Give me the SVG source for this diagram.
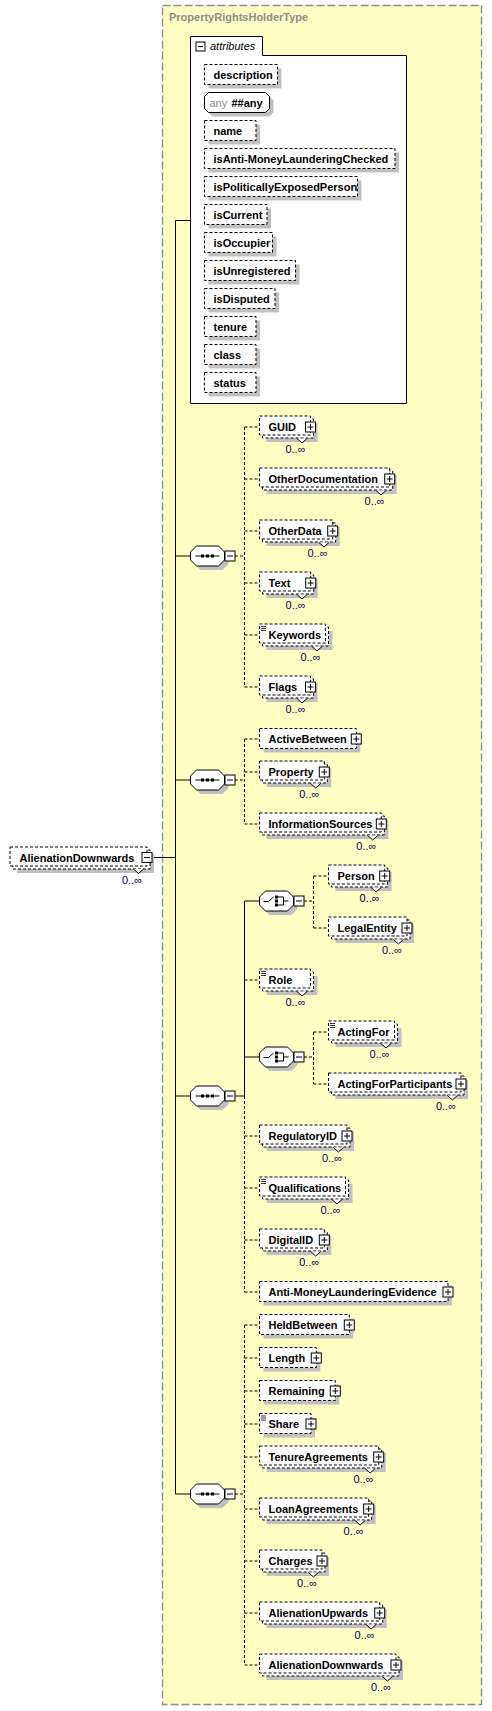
<svg xmlns="http://www.w3.org/2000/svg" width="492" height="1711" viewBox="0 0 492 1711">
<style>
.bg{fill:#fff}
.type{fill:#ffffc4;stroke:#8c8c8c;stroke-width:1.4;stroke-dasharray:8,3}
.sh{fill:#c0c0c0}
.bx{fill:#fff;stroke:#000;stroke-width:1;stroke-dasharray:3,2}
.sb{fill:#fff;stroke:#000;stroke-width:1}
.nm{font-family:"Liberation Sans",Arial,sans-serif;font-size:11px;font-weight:bold;fill:#000}
.oc{font-family:"Liberation Sans",Arial,sans-serif;font-size:11px;fill:#00005a;text-anchor:end}
.ttl{font-family:"Liberation Sans",Arial,sans-serif;font-size:11px;font-weight:bold;fill:#8c8c8c}
.it{font-family:"Liberation Sans",Arial,sans-serif;font-size:11px;font-style:italic;fill:#000}
.gr{font-family:"Liberation Sans",Arial,sans-serif;font-size:11px;fill:#8c8c8c}
.ln{fill:none;stroke:#000;stroke-width:1}
.dl{fill:none;stroke:#000;stroke-width:1;stroke-dasharray:3,2}
.nt{fill:#fff;stroke:#000;stroke-width:1}
.ic{fill:none;stroke:#000;stroke-width:0.8}
</style>
<defs>
<g id="plus"><rect x="-5" y="-5" width="10" height="10" fill="#fff" stroke="#000"/><path d="M-3,0H3M0,-3V3" stroke="#000" fill="none"/></g>
<g id="minus"><rect x="-5" y="-5" width="10" height="10" fill="#fff" stroke="#000"/><path d="M-3,0H3" stroke="#000" fill="none"/></g>
<polygon id="oct" points="6,-10 28,-10 34,-4 34,4 28,10 6,10 0,4 0,-4"/>
<g id="seq">
<use href="#oct" x="4" y="4" fill="#c0c0c0"/>
<use href="#oct" fill="#fff" stroke="#000"/>
<path d="M5,0H29" stroke="#000" fill="none"/>
<rect x="10.5" y="-1.5" width="3" height="3" fill="#000"/><rect x="15.5" y="-1.5" width="3" height="3" fill="#000"/><rect x="20.5" y="-1.5" width="3" height="3" fill="#000"/>
<use href="#minus" x="39.5" y="0"/>
</g>
<g id="cho">
<use href="#oct" x="4" y="4" fill="#c0c0c0"/>
<use href="#oct" fill="#fff" stroke="#000"/>
<path d="M4,0.5H9L14,-4" stroke="#000" fill="none"/>
<rect x="15.5" y="-5.5" width="3" height="3" fill="#000"/><rect x="15.5" y="-1.5" width="3" height="3" fill="#000"/><rect x="15.5" y="2.5" width="3" height="3" fill="#000"/>
<path d="M18.5,-4H24V4H18.5M24,0H29" stroke="#000" fill="none"/>
<use href="#minus" x="39.5" y="0"/>
</g>
<path id="icon" d="M1.5,2.5H6.5M1.5,4.5H6.5M1.5,6.5H6.5" stroke="#000" stroke-width="0.8" fill="none"/>
</defs>
<rect class="bg" x="0" y="0" width="492" height="1711"/>
<g id="type">
<rect class="type" x="162.5" y="5.5" width="319" height="1699"/>
<text class="ttl" x="169" y="21">PropertyRightsHolderType</text>
</g>
<g id="attributes">
<path class="sb" d="M190.5,36.5H262.5V55.5H406.5V403.5H190.5Z"/>
<rect x="196" y="42" width="9" height="9" fill="#fff" stroke="#000"/><path d="M198,46.5H203" stroke="#000"/>
<text class="it" x="210" y="50">attributes</text>
<g id="attr-description"><rect class="sh" x="208.5" y="68.5" width="73" height="20"/><rect class="bx" x="204.5" y="64.5" width="73" height="20"/><text class="nm" x="213.5" y="79">description</text></g>
<g id="attr-any"><polygon class="sh" points="212.5,96.5 269.5,96.5 273.5,100.5 273.5,112.5 269.5,116.5 212.5,116.5 208.5,112.5 208.5,100.5"/><polygon class="sb" points="208.5,92.5 265.5,92.5 269.5,96.5 269.5,108.5 265.5,112.5 208.5,112.5 204.5,108.5 204.5,96.5"/><text class="gr" x="209.5" y="107">any</text><text class="nm" x="231.5" y="107">##any</text></g>
<g id="attr-name"><rect class="sh" x="208.5" y="124.5" width="51.5" height="20"/><rect class="bx" x="204.5" y="120.5" width="51.5" height="20"/><text class="nm" x="213.5" y="135">name</text></g>
<g id="attr-aml"><rect class="sh" x="208.5" y="152.5" width="190.5" height="20"/><rect class="bx" x="204.5" y="148.5" width="190.5" height="20"/><text class="nm" x="213.5" y="163">isAnti-MoneyLaunderingChecked</text></g>
<g id="attr-pep"><rect class="sh" x="208.5" y="180.5" width="153" height="20"/><rect class="bx" x="204.5" y="176.5" width="153" height="20"/><text class="nm" x="213.5" y="191">isPoliticallyExposedPerson</text></g>
<g id="attr-current"><rect class="sh" x="208.5" y="208.5" width="62.5" height="20"/><rect class="bx" x="204.5" y="204.5" width="62.5" height="20"/><text class="nm" x="213.5" y="219">isCurrent</text></g>
<g id="attr-occupier"><rect class="sh" x="208.5" y="236.5" width="68" height="20"/><rect class="bx" x="204.5" y="232.5" width="68" height="20"/><text class="nm" x="213.5" y="247">isOccupier</text></g>
<g id="attr-unreg"><rect class="sh" x="208.5" y="264.5" width="91" height="20"/><rect class="bx" x="204.5" y="260.5" width="91" height="20"/><text class="nm" x="213.5" y="275">isUnregistered</text></g>
<g id="attr-disputed"><rect class="sh" x="208.5" y="292.5" width="70.5" height="20"/><rect class="bx" x="204.5" y="288.5" width="70.5" height="20"/><text class="nm" x="213.5" y="303">isDisputed</text></g>
<g id="attr-tenure"><rect class="sh" x="208.5" y="320.5" width="51.5" height="20"/><rect class="bx" x="204.5" y="316.5" width="51.5" height="20"/><text class="nm" x="213.5" y="331">tenure</text></g>
<g id="attr-class"><rect class="sh" x="208.5" y="348.5" width="51.5" height="20"/><rect class="bx" x="204.5" y="344.5" width="51.5" height="20"/><text class="nm" x="213.5" y="359">class</text></g>
<g id="attr-status"><rect class="sh" x="208.5" y="376.5" width="51.5" height="20"/><rect class="bx" x="204.5" y="372.5" width="51.5" height="20"/><text class="nm" x="213.5" y="387">status</text></g>
</g>
<g id="connectors">
<path class="ln" d="M152,857.5H175.5M175.5,220.5V1494M175.5,220.5H190.5M175.5,556H190.5M175.5,780H190.5M175.5,1096H190.5M175.5,1494H190.5"/>
<path class="ln" d="M235,1096H244.5M244.5,901V1096M244.5,901H259.5M244.5,1057H259.5"/>
<path class="dl" d="M235,556H244.5M244.5,427V687M244.5,427H259.5M244.5,479H259.5M244.5,531H259.5M244.5,583H259.5M244.5,635H259.5M244.5,687H259.5"/>
<path class="dl" d="M235,780H244.5M244.5,739V824M244.5,739H259.5M244.5,772H259.5M244.5,824H259.5"/>
<path class="dl" d="M244.5,980H259.5M244.5,1096V1292M244.5,1136H259.5M244.5,1188H259.5M244.5,1240H259.5M244.5,1292H259.5"/>
<path class="dl" d="M304,901H313.5M313.5,876V928M313.5,876H328.5M313.5,928H328.5"/>
<path class="dl" d="M304,1057H313.5M313.5,1032V1084M313.5,1032H328.5M313.5,1084H328.5"/>
<path class="dl" d="M235,1494H244.5M244.5,1325V1665M244.5,1325H259.5M244.5,1358H259.5M244.5,1391H259.5M244.5,1424H259.5M244.5,1457H259.5M244.5,1509H259.5M244.5,1561H259.5M244.5,1613H259.5M244.5,1665H259.5"/>
</g>
<g id="root">
<rect class="sh" x="17" y="854" width="137" height="19"/><rect class="bx" x="13" y="850" width="137" height="19"/><rect class="bx" x="10" y="847" width="137" height="19"/>
<path class="nt" d="M133.5,869L138.5,873.5L143.5,869"/>
<text class="nm" x="19.5" y="861.5">AlienationDownwards</text>
<use href="#minus" x="147" y="857.5"/>
<text class="oc" x="142" y="884">0..∞</text>
</g>
<g id="seq1"><use href="#seq" x="190.5" y="556"/></g>
<g id="seq2"><use href="#seq" x="190.5" y="780"/></g>
<g id="seq3"><use href="#seq" x="190.5" y="1096"/></g>
<g id="seq4"><use href="#seq" x="190.5" y="1494"/></g>
<g id="choice1"><use href="#cho" x="259.5" y="901"/></g>
<g id="choice2"><use href="#cho" x="259.5" y="1057"/></g>

<g id="GUID"><rect class="sh" x="266.5" y="423" width="51" height="19"/><rect class="bx" x="262.5" y="419" width="51" height="19"/><rect class="bx" x="259.5" y="416" width="51" height="19"/><path class="nt" d="M297,438.5L302,443L307,438.5"/><text class="nm" x="268.5" y="431">GUID</text><use href="#plus" x="310.5" y="427"/><text class="oc" x="305.5" y="453">0..∞</text></g>
<g id="OtherDocumentation"><rect class="sh" x="266.5" y="475" width="130.2" height="19"/><rect class="bx" x="262.5" y="471" width="130.2" height="19"/><rect class="bx" x="259.5" y="468" width="130.2" height="19"/><path class="nt" d="M376,490.5L381,495L386,490.5"/><text class="nm" x="268.5" y="483">OtherDocumentation</text><use href="#plus" x="389.7" y="479"/><text class="oc" x="384.7" y="505">0..∞</text></g>
<g id="OtherData"><rect class="sh" x="266.5" y="527" width="73.2" height="19"/><rect class="bx" x="262.5" y="523" width="73.2" height="19"/><rect class="bx" x="259.5" y="520" width="73.2" height="19"/><path class="nt" d="M319,542.5L324,547L329,542.5"/><text class="nm" x="268.5" y="535">OtherData</text><use href="#plus" x="332.7" y="531"/><text class="oc" x="327.7" y="557">0..∞</text></g>
<g id="Text"><rect class="sh" x="266.5" y="579" width="51.2" height="19"/><rect class="bx" x="262.5" y="575" width="51.2" height="19"/><rect class="bx" x="259.5" y="572" width="51.2" height="19"/><path class="nt" d="M297,594.5L302,599L307,594.5"/><text class="nm" x="268.5" y="587">Text</text><use href="#plus" x="310.7" y="583"/><text class="oc" x="305.7" y="609">0..∞</text></g>
<g id="Keywords"><rect class="sh" x="266.5" y="631" width="66" height="19"/><rect class="bx" x="262.5" y="627" width="66" height="19"/><rect class="bx" x="259.5" y="624" width="66" height="19"/><path class="nt" d="M312,646.5L317,651L322,646.5"/><use href="#icon" x="259.5" y="624"/><text class="nm" x="268.5" y="639">Keywords</text><text class="oc" x="320.5" y="661">0..∞</text></g>
<g id="Flags"><rect class="sh" x="266.5" y="683" width="51" height="19"/><rect class="bx" x="262.5" y="679" width="51" height="19"/><rect class="bx" x="259.5" y="676" width="51" height="19"/><path class="nt" d="M297,698.5L302,703L307,698.5"/><text class="nm" x="268.5" y="691">Flags</text><use href="#plus" x="310.5" y="687"/><text class="oc" x="305.5" y="713">0..∞</text></g>

<g id="ActiveBetween"><rect class="sh" x="263.5" y="732.5" width="96.8" height="20"/><rect class="bx" x="259.5" y="728.5" width="96.8" height="20"/><text class="nm" x="268.5" y="743">ActiveBetween</text><use href="#plus" x="356.3" y="739"/></g>
<g id="Property"><rect class="sh" x="266.5" y="768" width="64.8" height="19"/><rect class="bx" x="262.5" y="764" width="64.8" height="19"/><rect class="bx" x="259.5" y="761" width="64.8" height="19"/><path class="nt" d="M310.7,783.5L315.7,788L320.7,783.5"/><text class="nm" x="268.5" y="776">Property</text><use href="#plus" x="324.3" y="772"/><text class="oc" x="319.3" y="798">0..∞</text></g>
<g id="InformationSources"><rect class="sh" x="266.5" y="820" width="121.8" height="19"/><rect class="bx" x="262.5" y="816" width="121.8" height="19"/><rect class="bx" x="259.5" y="813" width="121.8" height="19"/><path class="nt" d="M367.7,835.5L372.7,840L377.7,835.5"/><text class="nm" x="268.5" y="828">InformationSources</text><use href="#plus" x="381.3" y="824"/><text class="oc" x="376.3" y="850">0..∞</text></g>

<g id="Person"><rect class="sh" x="335.5" y="872" width="56.2" height="19"/><rect class="bx" x="331.5" y="868" width="56.2" height="19"/><rect class="bx" x="328.5" y="865" width="56.2" height="19"/><path class="nt" d="M371.1,887.5L376.1,892L381.1,887.5"/><text class="nm" x="337.5" y="880">Person</text><use href="#plus" x="384.7" y="876"/><text class="oc" x="379.7" y="902">0..∞</text></g>
<g id="LegalEntity"><rect class="sh" x="335.5" y="924" width="78.5" height="19"/><rect class="bx" x="331.5" y="920" width="78.5" height="19"/><rect class="bx" x="328.5" y="917" width="78.5" height="19"/><path class="nt" d="M393.4,939.5L398.4,944L403.4,939.5"/><text class="nm" x="337.5" y="932">LegalEntity</text><use href="#plus" x="407" y="928"/><text class="oc" x="402" y="954">0..∞</text></g>
<g id="Role"><rect class="sh" x="266.5" y="976" width="51" height="19"/><rect class="bx" x="262.5" y="972" width="51" height="19"/><rect class="bx" x="259.5" y="969" width="51" height="19"/><path class="nt" d="M297,991.5L302,996L307,991.5"/><use href="#icon" x="259.5" y="969"/><text class="nm" x="268.5" y="984">Role</text><text class="oc" x="305.5" y="1006">0..∞</text></g>
<g id="ActingFor"><rect class="sh" x="335.5" y="1028" width="66" height="19"/><rect class="bx" x="331.5" y="1024" width="66" height="19"/><rect class="bx" x="328.5" y="1021" width="66" height="19"/><path class="nt" d="M381,1043.5L386,1048L391,1043.5"/><use href="#icon" x="328.5" y="1021"/><text class="nm" x="337.5" y="1036">ActingFor</text><text class="oc" x="389.5" y="1058">0..∞</text></g>
<g id="ActingForParticipants"><rect class="sh" x="335.5" y="1080" width="132.5" height="19"/><rect class="bx" x="331.5" y="1076" width="132.5" height="19"/><rect class="bx" x="328.5" y="1073" width="132.5" height="19"/><path class="nt" d="M447.4,1095.5L452.4,1100L457.4,1095.5"/><text class="nm" x="337.5" y="1088">ActingForParticipants</text><use href="#plus" x="461" y="1084"/><text class="oc" x="456" y="1110">0..∞</text></g>
<g id="RegulatoryID"><rect class="sh" x="266.5" y="1132" width="87.5" height="19"/><rect class="bx" x="262.5" y="1128" width="87.5" height="19"/><rect class="bx" x="259.5" y="1125" width="87.5" height="19"/><path class="nt" d="M333.4,1147.5L338.4,1152L343.4,1147.5"/><text class="nm" x="268.5" y="1140">RegulatoryID</text><use href="#plus" x="347" y="1136"/><text class="oc" x="342" y="1162">0..∞</text></g>
<g id="Qualifications"><rect class="sh" x="266.5" y="1184" width="86" height="19"/><rect class="bx" x="262.5" y="1180" width="86" height="19"/><rect class="bx" x="259.5" y="1177" width="86" height="19"/><path class="nt" d="M332,1199.5L337,1204L342,1199.5"/><use href="#icon" x="259.5" y="1177"/><text class="nm" x="268.5" y="1192">Qualifications</text><text class="oc" x="340.5" y="1214">0..∞</text></g>
<g id="DigitalID"><rect class="sh" x="266.5" y="1236" width="64.8" height="19"/><rect class="bx" x="262.5" y="1232" width="64.8" height="19"/><rect class="bx" x="259.5" y="1229" width="64.8" height="19"/><path class="nt" d="M310.7,1251.5L315.7,1256L320.7,1251.5"/><text class="nm" x="268.5" y="1244">DigitalID</text><use href="#plus" x="324.3" y="1240"/><text class="oc" x="319.3" y="1266">0..∞</text></g>
<g id="AntiMoneyLaunderingEvidence"><rect class="sh" x="263.5" y="1285.5" width="188.5" height="20"/><rect class="bx" x="259.5" y="1281.5" width="188.5" height="20"/><text class="nm" x="268.5" y="1296">Anti-MoneyLaunderingEvidence</text><use href="#plus" x="448" y="1292"/></g>

<g id="HeldBetween"><rect class="sh" x="263.5" y="1318.5" width="89.8" height="20"/><rect class="bx" x="259.5" y="1314.5" width="89.8" height="20"/><text class="nm" x="268.5" y="1329">HeldBetween</text><use href="#plus" x="349.3" y="1325"/></g>
<g id="Length"><rect class="sh" x="263.5" y="1351.5" width="56.8" height="20"/><rect class="bx" x="259.5" y="1347.5" width="56.8" height="20"/><text class="nm" x="268.5" y="1362">Length</text><use href="#plus" x="316.3" y="1358"/></g>
<g id="Remaining"><rect class="sh" x="263.5" y="1384.5" width="75.8" height="20"/><rect class="bx" x="259.5" y="1380.5" width="75.8" height="20"/><text class="nm" x="268.5" y="1395">Remaining</text><use href="#plus" x="335.3" y="1391"/></g>
<g id="Share"><rect class="sh" x="263.5" y="1417.5" width="51.5" height="20"/><rect class="bx" x="259.5" y="1413.5" width="51.5" height="20"/><use href="#icon" x="259.5" y="1413.5"/><text class="nm" x="268.5" y="1428">Share</text><use href="#plus" x="311" y="1424"/></g>
<g id="TenureAgreements"><rect class="sh" x="266.5" y="1453" width="119.2" height="19"/><rect class="bx" x="262.5" y="1449" width="119.2" height="19"/><rect class="bx" x="259.5" y="1446" width="119.2" height="19"/><path class="nt" d="M365.1,1468.5L370.1,1473L375.1,1468.5"/><text class="nm" x="268.5" y="1461">TenureAgreements</text><use href="#plus" x="378.7" y="1457"/><text class="oc" x="373.7" y="1483">0..∞</text></g>
<g id="LoanAgreements"><rect class="sh" x="266.5" y="1505" width="109.2" height="19"/><rect class="bx" x="262.5" y="1501" width="109.2" height="19"/><rect class="bx" x="259.5" y="1498" width="109.2" height="19"/><path class="nt" d="M355.1,1520.5L360.1,1525L365.1,1520.5"/><text class="nm" x="268.5" y="1513">LoanAgreements</text><use href="#plus" x="368.7" y="1509"/><text class="oc" x="363.7" y="1535">0..∞</text></g>
<g id="Charges"><rect class="sh" x="266.5" y="1557" width="62.5" height="19"/><rect class="bx" x="262.5" y="1553" width="62.5" height="19"/><rect class="bx" x="259.5" y="1550" width="62.5" height="19"/><path class="nt" d="M308.4,1572.5L313.4,1577L318.4,1572.5"/><text class="nm" x="268.5" y="1565">Charges</text><use href="#plus" x="322" y="1561"/><text class="oc" x="317" y="1587">0..∞</text></g>
<g id="AlienationUpwards"><rect class="sh" x="266.5" y="1609" width="120.2" height="19"/><rect class="bx" x="262.5" y="1605" width="120.2" height="19"/><rect class="bx" x="259.5" y="1602" width="120.2" height="19"/><path class="nt" d="M366.1,1624.5L371.1,1629L376.1,1624.5"/><text class="nm" x="268.5" y="1617">AlienationUpwards</text><use href="#plus" x="379.7" y="1613"/><text class="oc" x="374.7" y="1639">0..∞</text></g>
<g id="AlienationDownwards"><rect class="sh" x="266.5" y="1661" width="136.5" height="19"/><rect class="bx" x="262.5" y="1657" width="136.5" height="19"/><rect class="bx" x="259.5" y="1654" width="136.5" height="19"/><path class="nt" d="M382.4,1676.5L387.4,1681L392.4,1676.5"/><text class="nm" x="268.5" y="1669">AlienationDownwards</text><use href="#plus" x="396" y="1665"/><text class="oc" x="391" y="1691">0..∞</text></g>
</svg>
